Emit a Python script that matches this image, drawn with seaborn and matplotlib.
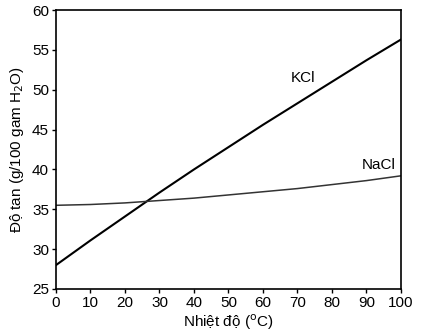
import matplotlib
matplotlib.use("Agg")
import matplotlib.pyplot as plt
import seaborn as sns
import pandas as pd

temperature = [0, 10, 20, 30, 40, 50, 60, 70, 80, 90, 100]
kcl = [28.0, 31.1, 34.1, 37.1, 40.0, 42.8, 45.6, 48.3, 51.0, 53.7, 56.3]
nacl = [35.5, 35.6, 35.8, 36.1, 36.4, 36.8, 37.2, 37.6, 38.1, 38.6, 39.2]
x_ticks = [0, 10, 20, 30, 40, 50, 60, 70, 80, 90, 100]
y_ticks = [25, 30, 35, 40, 45, 50, 55, 60]

sns.set_theme(style="ticks")
plt.rcParams['font.family'] = ['Liberation Sans', 'DejaVu Sans']
plt.rcParams['text.color'] = 'black'
plt.rcParams['axes.labelcolor'] = 'black'

df = pd.DataFrame({"t": temperature, "KCl": kcl, "NaCl": nacl})

fig = plt.figure(figsize=(4.35, 3.32), dpi=100)
ax = fig.add_axes([56/435, 1 - 289/332, (401-56)/435, (289-10)/332])

sns.lineplot(data=df, x="t", y="KCl", ax=ax, color="black", linewidth=1.5)
sns.lineplot(data=df, x="t", y="NaCl", ax=ax, color="#333333", linewidth=1.1)

ax.set_xlim(0, 100)
ax.set_ylim(25, 60)
ax.set_xticks(x_ticks)
ax.set_yticks(y_ticks)
ax.tick_params(direction="out", length=3, width=1, labelsize=11, colors="black", pad=2)
for s in ax.spines.values():
    s.set_color("black")
    s.set_linewidth(1.2)

ax.set_xlabel("Nhiệt độ ($^{\\mathrm{o}}$C)", fontsize=11, labelpad=2, color="black")
ax.set_ylabel("Độ tan (g/100 gam H$_{\\mathrm{2}}$O)", fontsize=11, labelpad=4, color="black")

ax.text(71.5, 51.5, "KCl", fontsize=11, ha="center", va="center", color="black")
ax.text(93.5, 40.6, "NaCl", fontsize=11, ha="center", va="center", color="black")

fig.savefig("out.png", dpi=100)
